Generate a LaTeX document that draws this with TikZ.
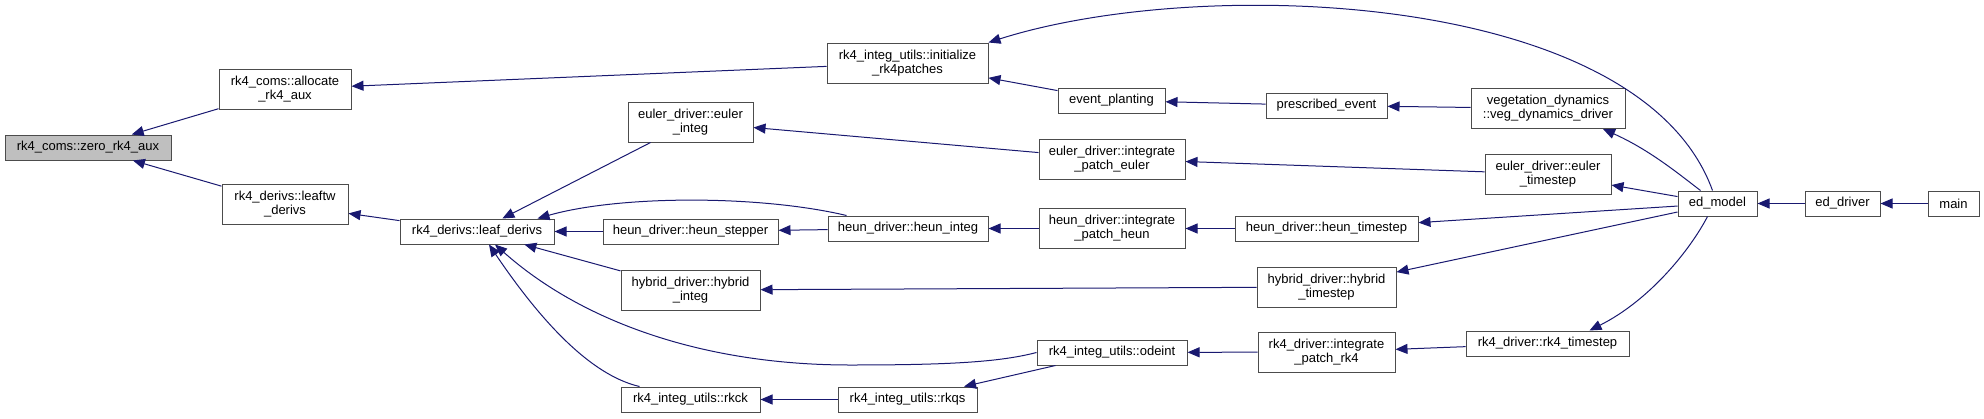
\documentclass[tikz,border=0pt]{standalone}
\usepackage{fontspec}
\setmainfont{Liberation Sans}
\usepackage{tikz}
\usetikzlibrary{arrows.meta,positioning}
\definecolor{navyline}{RGB}{25,25,112}

\begin{document}
\begin{tikzpicture}[x=1pt,y=-1pt,
		fn/.style={rectangle,draw=black!70,line width=1pt,fill=white,inner sep=0pt,minimum height=25pt,align=center,font=\fontsize{13}{14}\selectfont},
		fntwo/.style={fn,minimum height=40pt},
		cur/.style={fn,fill=black!25},
		call/.style={draw=navyline,line width=1pt,>={Triangle[length=12pt,width=10pt]},<-}]
	\useasboundingbox (0,0) rectangle (1984,418);

	% column 0-2
	\node[cur,minimum width=166pt]   (zero)    at (88,147.5)   {rk4\_coms::zero\_rk4\_aux};
	\node[fntwo,minimum width=132pt] (alloc)   at (285,89)     {rk4\_coms::allocate\\\_rk4\_aux};
	\node[fntwo,minimum width=126pt] (leaftw)  at (285,204.5)  {rk4\_derivs::leaftw\\\_derivs};
	\node[fn,minimum width=154pt]    (leaf)    at (477,231.5)  {rk4\_derivs::leaf\_derivs};

	% column 3-4
	\node[fntwo,minimum width=125pt] (euinteg) at (690.5,122)  {euler\_driver::euler\\\_integ};
	\node[fn,minimum width=175pt]    (hstep)   at (690.5,231.5){heun\_driver::heun\_stepper};
	\node[fntwo,minimum width=139pt] (hyinteg) at (690.5,290)  {hybrid\_driver::hybrid\\\_integ};
	\node[fn,minimum width=139pt]    (rkck)    at (690.5,399.5){rk4\_integ\_utils::rkck};
	\node[fntwo,minimum width=161pt] (init)    at (907.5,63)   {rk4\_integ\_utils::initialize\\\_rk4patches};
	\node[fn,minimum width=160pt]    (hinteg)  at (908,228.5)  {heun\_driver::heun\_integ};
	\node[fn,minimum width=139pt]    (rkqs)    at (907.5,399.5){rk4\_integ\_utils::rkqs};

	% column 5-6
	\node[fn,minimum width=107pt]    (evplant) at (1111.5,100.5){event\_planting};
	\node[fntwo,minimum width=146pt] (ipeuler) at (1112,159)   {euler\_driver::integrate\\\_patch\_euler};
	\node[fntwo,minimum width=146pt] (ipheun)  at (1112,228.5) {heun\_driver::integrate\\\_patch\_heun};
	\node[fn,minimum width=150pt]    (odeint)  at (1112,352.5) {rk4\_integ\_utils::odeint};
	\node[fn,minimum width=121pt]    (presc)   at (1326.5,105.5){prescribed\_event};
	\node[fn,minimum width=183pt]    (htime)   at (1326.5,228.5){heun\_driver::heun\_timestep};
	\node[fntwo,minimum width=139pt] (hytime)  at (1326.5,287) {hybrid\_driver::hybrid\\\_timestep};
	\node[fntwo,minimum width=137pt] (iprk4)   at (1326.5,352) {rk4\_driver::integrate\\\_patch\_rk4};

	% column 7-10
	\node[fntwo,minimum width=154pt] (vegdyn)  at (1548,108.5) {vegetation\_dynamics\\::veg\_dynamics\_driver};
	\node[fntwo,minimum width=126pt] (eutime)  at (1548,174)   {euler\_driver::euler\\\_timestep};
	\node[fn,minimum width=163pt]    (rk4time) at (1547.5,343.5){rk4\_driver::rk4\_timestep};
	\node[fn,minimum width=79pt]     (edmodel) at (1717.5,203.5){ed\_model};
	\node[fn,minimum width=75pt]     (eddriver) at (1842.5,203.5){ed\_driver};
	\node[fn,minimum width=51pt]     (main)    at (1953.5,203.5){main};

	% straight calls
	\draw[call] (zero) -- (alloc);
	\draw[call] (zero) -- (leaftw);
	\draw[call] (alloc) -- (init);
	\draw[call] (leaftw) -- (leaf);
	\draw[call] (leaf) -- (euinteg);
	\draw[call] (leaf) -- (hstep);
	\draw[call] (leaf) -- (hyinteg);
	\draw[call] (init) -- (evplant);
	\draw[call] (euinteg) -- (ipeuler);
	\draw[call] (hstep) -- (hinteg);
	\draw[call] (hyinteg) -- (hytime);
	\draw[call] (rkck) -- (rkqs);
	\draw[call] (rkqs) -- (odeint);
	\draw[call] (hinteg) -- (ipheun);
	\draw[call] (evplant) -- (presc);
	\draw[call] (ipeuler) -- (eutime);
	\draw[call] (ipheun) -- (htime);
	\draw[call] (odeint) -- (iprk4);
	\draw[call] (iprk4) -- (rk4time);
	\draw[call] (presc) -- (vegdyn);
	\draw[call] (eutime) -- (edmodel);
	\draw[call] (htime) -- (edmodel);
	\draw[call] (hytime) -- (edmodel);
	\draw[call] (edmodel) -- (eddriver);
	\draw[call] (eddriver) -- (main);

	% curved calls
	\draw[call] ([xshift=-17pt]leaf.north east) .. controls (620,195) and (760,195) .. ([xshift=19pt]hinteg.north west);
	\draw[call] ([xshift=18pt]leaf.south) .. controls (580,320) and (700,365) .. (850,365) .. controls (950,365) and (1000,362) .. (odeint.west);
	\draw[call] ([xshift=12pt]leaf.south) .. controls (540,320) and (590,375) .. ([xshift=19pt]rkck.north west);
	\draw[call] (init.north east) .. controls (1200,-25) and (1640,-10) .. ([xshift=-5pt]edmodel.north);
	\draw[call] ([xshift=55pt]vegdyn.south) .. controls (1650,150) and (1680,175) .. ([xshift=-17pt]edmodel.north);
	\draw[call] ([xshift=42pt]rk4time.north) .. controls (1650,300) and (1690,250) .. ([xshift=-10pt]edmodel.south);
\end{tikzpicture}
\end{document}
